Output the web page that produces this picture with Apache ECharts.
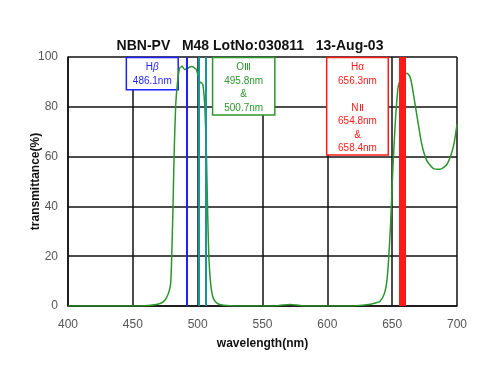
<!DOCTYPE html>
<html>
<head>
<meta charset="utf-8">
<script src="https://cdn.jsdelivr.net/npm/echarts@6/dist/echarts.min.js"></script>
<style>html,body{margin:0;padding:0;background:#fff}#c{width:500px;height:382px}</style>
</head>
<body>
<div id="c"></div>
<script>
// Transmittance curve (wavelength nm, transmittance %)
const wavelengths = [400,450,462,468,472,475,477,478.5,479.3,480,481,481.8,483,484.5,486,488,490,492,494,495.5,497,499,500.5,501.6,503,504,505,505.7,506.8,507.6,508.6,510,511.5,513.2,516,520,530,560,566,571,576,582,615,625,632,637,640.5,644,646,647.4,648.7,649.8,650.8,651.8,652.8,654.6,656.5,658.5,661.5,663.5,665,668.8,672.7,676.5,681.6,686.8,691.9,695.8,698,700];
const transmittance = [0,0,0.2,0.6,1.2,2.5,4.5,7,10,20,40,60,80,90,95.5,96.3,95,95.4,96,96.2,95.8,95,92,90,89.5,89,84,78,60,40,20,9,4,2,0.8,0.3,0,0,0.4,0.6,0.4,0,0,0.2,0.6,1.2,1.8,5,10.4,20,32,46,58,68,77,88,91,92.5,93.5,92.3,89.4,77.4,65.3,58.6,55.3,54.9,56.6,61.3,66,73];

// Emission line markers (nm) as drawn
const hbetaLines = [491.5];
const oiiiLines = [500.5, 506];
const haLines = [656.5, 658, 659.5];

const xTicks = [400,450,500,550,600,650,700];
const yTicks = [0,20,40,60,80,100];

// Annotation boxes: [x1, y1, x2, y2] in data units
const hbetaBox = [445, 99.8, 485, 86.8];
const oiiiBox = [511.5, 99.8, 559.5, 76.7];
const haBox = [599.5, 99.8, 647, 60.6];

const GREEN = '#2c962c';
const BLUE = '#1f1fff';
const TEAL = '#16959b';
const RED = '#ff1a1a';
const FONT = 'Liberation Sans, Arial, sans-serif';

const chart = echarts.init(document.getElementById('c'), null, {renderer:'canvas'});

function vlines(vals, color, width){
  return vals.map(v => ({xAxis: v, lineStyle:{color: color, width: width, type:'solid'}}));
}

const option = {
  backgroundColor: '#fff',
  animation: false,
  title: {
    text: 'NBN-PV   M48 LotNo:030811   13-Aug-03',
    left: 'center',
    top: 34,
    textStyle: {fontFamily: FONT, fontSize: 14, fontWeight:'bold', color:'#111'}
  },
  grid: {left: 68, right: 43, top: 57, bottom: 76},
  xAxis: {
    type: 'value', min: 400, max: 700, interval: 50,
    name: 'wavelength(nm)', nameLocation: 'middle', nameGap: 32,
    nameMoveOverlap: false,
    nameTextStyle: {fontFamily: FONT, fontSize: 12, fontWeight:'bold', color:'#111'},
    axisLine: {show: true, lineStyle: {color:'#111', width: 1.5}},
    axisTick: {show: false},
    axisLabel: {margin: 13, fontSize: 12, color:'#555', fontFamily: FONT},
    splitLine: {show: true, lineStyle: {color:'#111', width: 1.5}}
  },
  yAxis: {
    type: 'value', min: 0, max: 100, interval: 20,
    name: 'transmittance(%)', nameLocation: 'middle', nameGap: 26,
    nameMoveOverlap: false,
    nameTextStyle: {fontFamily: FONT, fontSize: 12, fontWeight:'bold', color:'#111'},
    axisLine: {show: true, lineStyle: {color:'#111', width: 1.5}},
    axisTick: {show: false},
    axisLabel: {margin: 10, fontSize: 12, color:'#555', fontFamily: FONT},
    splitLine: {show: true, lineStyle: {color:'#111', width: 1.5}}
  },
  series: [
    {
      type: 'line',
      data: wavelengths.map((w,i) => [w, transmittance[i]]),
      showSymbol: false,
      smooth: 0.2,
      lineStyle: {color: GREEN, width: 1.5},
      z: 3,
      markArea: {
        silent: true,
        data: [
          [{coord:[hbetaBox[0],hbetaBox[1]], itemStyle:{color:'#fff', borderColor:BLUE, borderWidth:1.5},
            label:{show:true, position:'insideTop', distance: 3, color:BLUE, fontSize:10, lineHeight:14.5, fontFamily: FONT,
              formatter:'{a|H}{g|β}\n{a|486.1nm}', rich:{a:{color:BLUE,fontSize:10,lineHeight:14.5,fontFamily:FONT},g:{color:BLUE,fontSize:10,lineHeight:14.5,fontStyle:'italic',fontFamily:FONT}}}},
           {coord:[hbetaBox[2],hbetaBox[3]]}],
          [{coord:[oiiiBox[0],oiiiBox[1]], itemStyle:{color:'#fff', borderColor:GREEN, borderWidth:1.5},
            label:{show:true, position:'insideTop', distance: 4, color:GREEN, fontSize:10, lineHeight:13.5, fontFamily: FONT,
              formatter:'OⅢ\n495.8nm\n&\n500.7nm'}},
           {coord:[oiiiBox[2],oiiiBox[3]]}],
          [{coord:[haBox[0],haBox[1]], itemStyle:{color:'#fff', borderColor:RED, borderWidth:1.5},
            label:{show:true, position:'insideTop', distance: 4, color:RED, fontSize:10, lineHeight:13.5, fontFamily: FONT,
              formatter:'Hα\n656.3nm\n\nNⅡ\n654.8nm\n&\n658.4nm'}},
           {coord:[haBox[2],haBox[3]]}]
        ]
      }
    },
    {
      type: 'line',
      data: [],
      z: 4,
      markLine: {
        silent: true,
        symbol: 'none',
        label: {show: false},
        data: [].concat(vlines(hbetaLines, BLUE, 2), vlines(oiiiLines, TEAL, 2), vlines(haLines, RED, 3))
      }
    }
  ]
};
chart.setOption(option);
</script>
</body>
</html>
